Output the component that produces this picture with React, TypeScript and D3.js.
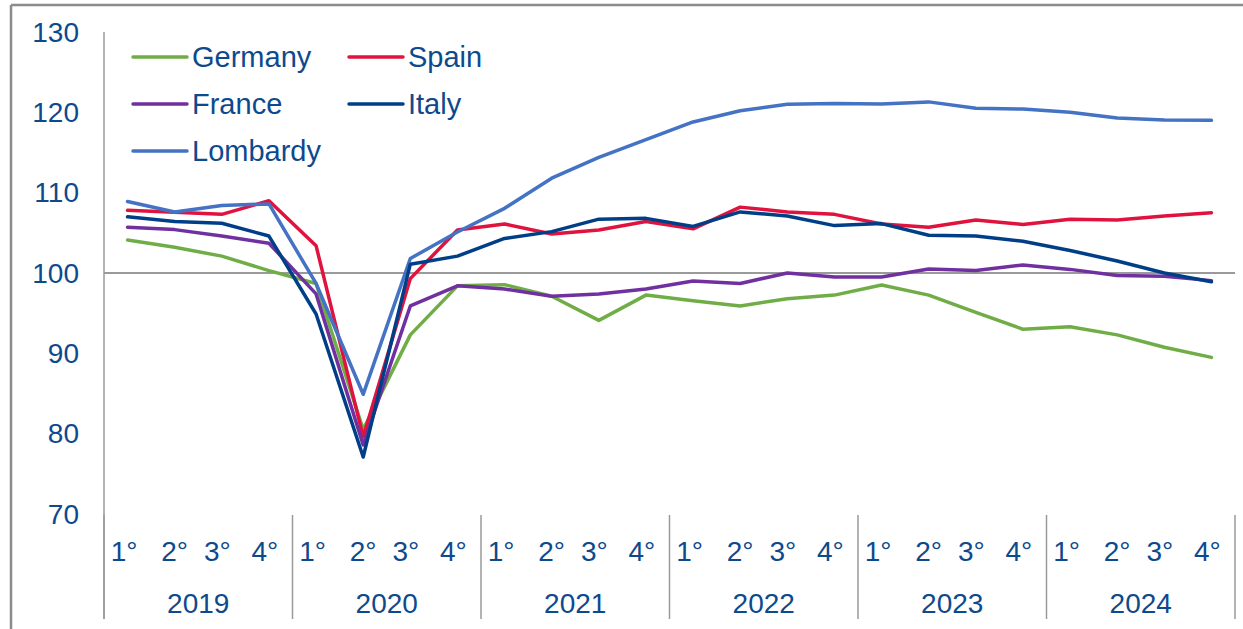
import React from "react";
import * as d3 from "d3";

const years = ["2019", "2020", "2021", "2022", "2023", "2024"];
const quarters = ["1°", "2°", "3°", "4°"];
const yTicks = [70, 80, 90, 100, 110, 120, 130];

const germany = [104.1, 103.2, 102.1, 100.3, 98.7, 80.5, 92.3, 98.4, 98.55, 97.1, 94.1, 97.25, 96.55, 95.9, 96.8, 97.25, 98.5, 97.25, 95.1, 93.0, 93.3, 92.3, 90.75, 89.5];
const spain = [107.8, 107.55, 107.3, 109.0, 103.4, 79.6, 99.3, 105.35, 106.1, 104.85, 105.35, 106.4, 105.5, 108.2, 107.6, 107.3, 106.1, 105.7, 106.6, 106.05, 106.7, 106.6, 107.1, 107.5];
const france = [105.7, 105.4, 104.6, 103.7, 97.4, 78.6, 95.9, 98.4, 98.0, 97.1, 97.4, 98.0, 99.0, 98.7, 100.0, 99.5, 99.5, 100.5, 100.3, 101.0, 100.45, 99.7, 99.6, 99.05];
const italy = [107.0, 106.4, 106.2, 104.6, 94.9, 77.1, 101.1, 102.1, 104.3, 105.15, 106.7, 106.8, 105.8, 107.6, 107.1, 105.9, 106.15, 104.7, 104.6, 103.95, 102.8, 101.5, 100.0, 98.9];
const lombardy = [108.9, 107.6, 108.4, 108.6, 98.7, 84.9, 101.8, 105.1, 108.05, 111.8, 114.4, 116.6, 118.8, 120.2, 121.0, 121.1, 121.05, 121.3, 120.5, 120.4, 120.0, 119.3, 119.05, 119.0];

const seriesNames = ["Germany", "Spain", "France", "Italy", "Lombardy"];
const seriesValues = [germany, spain, france, italy, lombardy];
const seriesColors = ["#70AD47", "#E0133F", "#7030A0", "#003F87", "#4472C4"];
const drawOrder = [0, 1, 2, 4, 3];

const TEXT = "#0D4A8D";
const FONT = "'Liberation Sans', Arial, sans-serif";

export default function App() {
  const W = 1243, H = 629;
  const left = 104, right = 1235, top = 32, bottom = 514;
  const n = years.length * quarters.length;
  const idx = d3.range(n);
  const x = d3.scaleBand<number>().domain(idx).range([left, right]).paddingInner(0).paddingOuter(0);
  const cx = (i: number) => (x(i) as number) + x.bandwidth() / 2;
  const y = d3.scaleLinear().domain([70, 130]).range([bottom, top]);
  const line = d3.line<number>().x((_, i) => cx(i)).y((v) => y(v));
  const qOffset = [-3.5, 0, -4.5, -4];
  const yearW = x.bandwidth() * 4;

  const legendPos = [
    { lx: 133, ty: 57 },
    { lx: 349, ty: 57 },
    { lx: 133, ty: 104 },
    { lx: 349, ty: 104 },
    { lx: 133, ty: 151 },
  ];

  return (
    <svg width={W} height={H} style={{ position: "absolute", left: 0, top: 0, background: "#fff" }} fontFamily={FONT}>
      <rect x={0} y={0} width={W} height={H} fill="#fff" />
      <line x1={11} x2={W} y1={5} y2={5} stroke="#8c8c8c" strokeWidth={2.5} />
      <line x1={11} x2={11} y1={5} y2={H} stroke="#8c8c8c" strokeWidth={2.5} />
      <line x1={left} x2={left} y1={top} y2={619} stroke="#9a9a9a" strokeWidth={1.5} />
      {yTicks.map((t) => (
        <text key={t} x={79} y={y(t)} dy="0.35em" textAnchor="end" fontSize={28} fill={TEXT}>
          {t}
        </text>
      ))}
      <line x1={left} x2={right} y1={y(100)} y2={y(100)} stroke="#9a9a9a" strokeWidth={2} />
      {d3.range(years.length + 1).map((k) => {
        const xx = left + k * yearW;
        return <line key={k} x1={xx} x2={xx} y1={515} y2={619} stroke="#9a9a9a" strokeWidth={1.5} />;
      })}
      {idx.map((i) => (
        <text key={i} x={cx(i) + qOffset[i % 4]} y={561} textAnchor="middle" fontSize={28} fill={TEXT}>
          {quarters[i % 4]}
        </text>
      ))}
      {years.map((yr, k) => (
        <text key={yr} x={left + k * yearW + yearW / 2} y={613} textAnchor="middle" fontSize={28} fill={TEXT}>
          {yr}
        </text>
      ))}
      {drawOrder.map((s) => (
        <path
          key={seriesNames[s]}
          d={line(seriesValues[s]) || ""}
          fill="none"
          stroke={seriesColors[s]}
          strokeWidth={3.5}
          strokeLinejoin="round"
          strokeLinecap="round"
        />
      ))}
      {seriesNames.map((nm, s) => {
        const p = legendPos[s];
        return (
          <g key={nm}>
            <line x1={p.lx} x2={p.lx + 54} y1={p.ty} y2={p.ty} stroke={seriesColors[s]} strokeWidth={3.5} strokeLinecap="round" />
            <text x={p.lx + 59} y={p.ty} dy="0.35em" fontSize={29} fill={TEXT}>
              {nm}
            </text>
          </g>
        );
      })}
    </svg>
  );
}
